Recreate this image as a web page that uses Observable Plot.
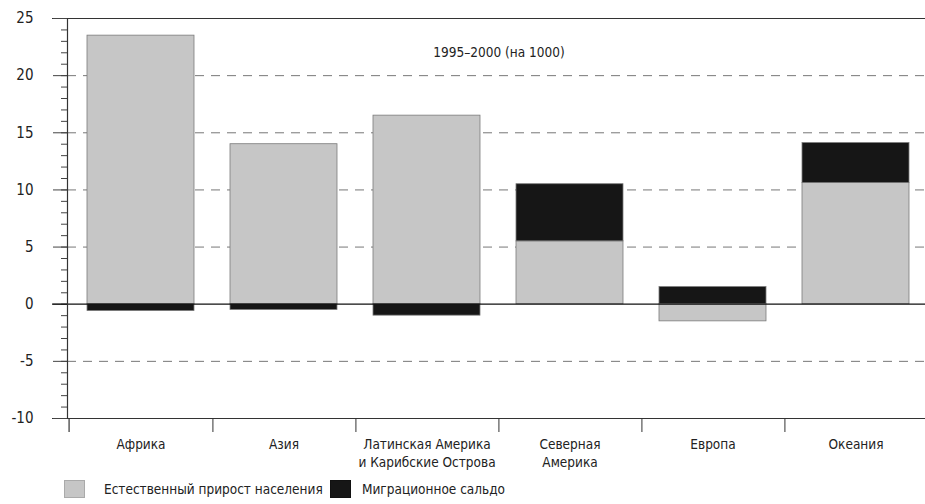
<!DOCTYPE html>
<html>
<head>
<meta charset="utf-8">
<script src="https://cdn.jsdelivr.net/npm/d3@7"></script>
<script src="https://cdn.jsdelivr.net/npm/@observablehq/plot@0.6"></script>
<style>
  body { margin: 0; background: #fff; font-family: "Liberation Sans Narrow", "DejaVu Sans Condensed", "Liberation Sans", sans-serif; }
  #chart svg { display: block; }
  #legend { position: relative; width: 925px; height: 34px; font-size: 13.5px; color: #222; }
  #legend .sw { position: absolute; top: 10px; width: 21px; height: 18px; box-sizing: border-box; }
  #legend .lb { position: absolute; top: 10px; line-height: 18px; white-space: nowrap; }
</style>
</head>
<body>
<div id="chart"></div>
<div id="legend"></div>
<script>
const regions = ["Африка", "Азия", "Латинская Америка\nи Карибские Острова", "Северная\nАмерика", "Европа", "Океания"];
const natural = [23.5, 14.0, 16.5, 5.5, -1.5, 10.6];
const migration = [-0.6, -0.5, -1.0, 5.0, 1.5, 3.5];
const seriesNames = ["Естественный прирост населения", "Миграционное сальдо"];
const seriesColors = ["#c6c6c6", "#161616"];
const yMajorTicks = [-10, -5, 0, 5, 10, 15, 20, 25];
const yMinorTicks = d3.range(-10, 26, 1);
const dashedGrid = [-5, 5, 10, 15, 20];
const subtitle = "1995–2000 (на 1000)";

const rows = regions.flatMap((r, i) => [
  {region: r, series: seriesNames[0], value: natural[i]},
  {region: r, series: seriesNames[1], value: migration[i]}
]);

const font = '"Liberation Sans Narrow", "DejaVu Sans Condensed", "Liberation Sans", sans-serif';
const step = (925 + 5 - 67) / regions.length;

const chart = Plot.plot({
  width: 925,
  height: 470,
  marginLeft: 67,
  marginRight: -5,
  marginTop: 18,
  marginBottom: 52,
  style: {fontFamily: font, fontSize: "13.5px", color: "#222", background: "#fff", overflow: "visible"},
  x: {domain: regions, paddingInner: 0.25, paddingOuter: 0.125, axis: null},
  y: {domain: [-10, 25], axis: null},
  color: {domain: seriesNames, range: seriesColors},
  marks: [
    Plot.ruleY(dashedGrid, {stroke: "#777", strokeDasharray: "9,7", strokeWidth: 1}),
    Plot.ruleY([25, -10], {stroke: "#333", strokeWidth: 1.2, insetLeft: -15}),
    Plot.axisY({ticks: yMinorTicks, tickSize: 6, tickFormat: () => "", label: null, stroke: "#444"}),
    Plot.axisY({ticks: yMajorTicks, tickSize: 14, tickPadding: 20, tickFormat: d => String(d), label: null, stroke: "#444", fill: "#222", fontSize: 15}),
    Plot.barY(rows, {x: "region", y: "value", fill: "series", stroke: "#7a7a7a", strokeWidth: 0.8}),
    Plot.ruleY([0], {stroke: "#111", strokeWidth: 1.3, insetLeft: -15}),
    Plot.frame({anchor: "left", stroke: "#333", strokeWidth: 1.2}),
    Plot.axisX({tickSize: 14, tickFormat: () => "", label: null, dx: step / 2, stroke: "#333"}),
    Plot.axisX({ticks: [regions[0]], tickSize: 14, tickFormat: () => "", label: null, dx: -step / 2, stroke: "#333", strokeWidth: 1.2}),
    Plot.axisX({tickSize: 0, tickPadding: 18, label: null, fill: "#222", fontSize: 13.5, lineHeight: 1.33}),
    Plot.text([subtitle], {frameAnchor: "top", dy: 29, fontSize: 13.5, fill: "#222"})
  ]
});
document.getElementById("chart").append(chart);

const legend = document.getElementById("legend");
const legendPos = [{sw: 64, lb: 104}, {sw: 330, lb: 362}];
seriesNames.forEach((name, i) => {
  const sw = document.createElement("div");
  sw.className = "sw";
  sw.style.left = legendPos[i].sw + "px";
  sw.style.background = seriesColors[i];
  sw.style.border = i === 0 ? "1px solid #aaa" : "1px solid #111";
  legend.append(sw);
  const lb = document.createElement("div");
  lb.className = "lb";
  lb.style.left = legendPos[i].lb + "px";
  lb.textContent = name;
  legend.append(lb);
});
</script>
</body>
</html>
